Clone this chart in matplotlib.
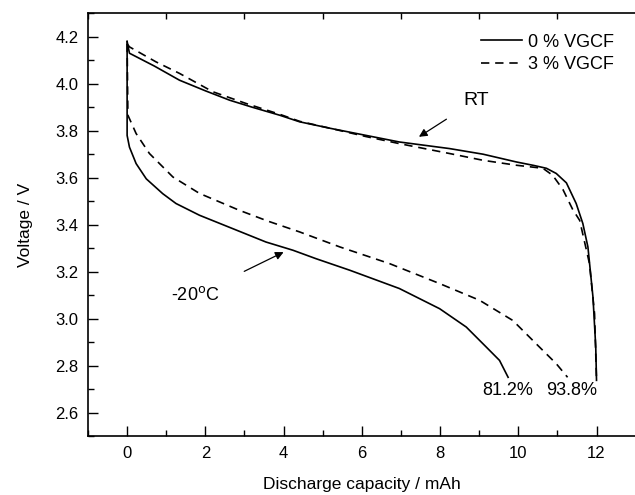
import numpy as np
import matplotlib
matplotlib.use('Agg')
import matplotlib.pyplot as plt
from matplotlib.ticker import MultipleLocator

# data (capacity in mAh, voltage in V)
rt0_x = [0.0, 0.06, 0.7, 1.34, 2.0, 2.62, 3.2, 3.9, 4.41, 5.2, 6.11, 6.96, 7.6, 8.24,
         9.1, 9.95, 10.4, 10.72, 10.97, 11.23, 11.48, 11.65, 11.78, 11.91, 11.98, 12.0]
rt0_y = [4.18, 4.13, 4.075, 4.015, 3.97, 3.93, 3.90, 3.866, 3.838, 3.81, 3.78, 3.752, 3.738, 3.724,
         3.70, 3.667, 3.652, 3.64, 3.618, 3.578, 3.49, 3.405, 3.305, 3.09, 2.88, 2.737]

rt3_x = [0.0, 0.06, 0.74, 1.34, 2.19, 3.04, 3.9, 4.41, 5.2, 6.11, 6.96, 7.6, 8.24, 9.1,
         9.95, 10.63, 10.88, 11.14, 11.39, 11.57, 11.82, 11.95, 12.0]
rt3_y = [4.17, 4.157, 4.093, 4.044, 3.966, 3.916, 3.87, 3.84, 3.81, 3.775, 3.745, 3.724, 3.703, 3.674,
         3.653, 3.64, 3.61, 3.55, 3.465, 3.418, 3.234, 3.02, 2.737]

low0_x = [0.0, 0.0, 0.06, 0.23, 0.49, 0.91, 1.25, 1.85, 2.7, 3.55, 4.24, 4.83, 5.69, 6.96,
          7.99, 8.67, 9.18, 9.52, 9.74]
low0_y = [4.18, 3.78, 3.73, 3.66, 3.595, 3.532, 3.49, 3.44, 3.383, 3.326, 3.291, 3.255, 3.206, 3.128,
          3.042, 2.964, 2.879, 2.822, 2.75]

low3_x = [0.0, 0.02, 0.23, 0.57, 1.17, 1.85, 2.87, 3.6, 4.41, 5.44, 6.71, 7.99, 9.01,
          9.86, 10.54, 10.97, 11.26]
low3_y = [4.17, 3.866, 3.788, 3.703, 3.603, 3.533, 3.461, 3.415, 3.369, 3.305, 3.234, 3.149, 3.078,
          2.992, 2.879, 2.808, 2.75]

plt.rcParams['font.family'] = ['Liberation Sans', 'DejaVu Sans']

fig = plt.figure(figsize=(6.35, 4.95), dpi=100)
ax = fig.add_axes([88/635, 59/495, 1 - 88/635 + 0.001, (436 - 13.3)/495])

lw = 1.2
dash = (5, 3.5)
ax.plot(rt0_x, rt0_y, color='black', lw=lw, label='0 % VGCF')
ax.plot(rt3_x, rt3_y, color='black', lw=lw, dashes=dash, label='3 % VGCF')
ax.plot(low0_x, low0_y, color='black', lw=lw)
ax.plot(low3_x, low3_y, color='black', lw=lw, dashes=dash)

ax.set_xlim(-1, 13)
ax.set_ylim(2.5, 4.3)
ax.xaxis.set_major_locator(MultipleLocator(2))
ax.xaxis.set_minor_locator(MultipleLocator(1))
ax.yaxis.set_major_locator(MultipleLocator(0.2))
ax.yaxis.set_minor_locator(MultipleLocator(0.1))
ax.tick_params(which='both', direction='in', top=True, right=False, labelsize=12, width=1)
ax.tick_params(which='major', length=7, pad=7)
ax.tick_params(which='minor', length=4)
ax.tick_params(axis='x', which='major', top=False)
ax.xaxis.set_major_formatter(matplotlib.ticker.FormatStrFormatter('%d'))
ax.yaxis.set_major_formatter(matplotlib.ticker.FormatStrFormatter('%.1f'))
ax.spines['right'].set_visible(False)
for s in ['left', 'bottom', 'top']:
    ax.spines[s].set_linewidth(1.2)

ax.set_xlabel('Discharge capacity / mAh', fontsize=12.5, labelpad=12)
ax.set_ylabel('Voltage / V', fontsize=12.5, labelpad=16)

ax.annotate('RT', xy=(7.46, 3.774), xytext=(8.92, 3.93), fontsize=14,
            ha='center', va='center',
            arrowprops=dict(arrowstyle='-|>', color='black', lw=0.9,
                            shrinkA=12, shrinkB=0, mutation_scale=12))
ax.annotate('-20$^{\\rm o}$C', xy=(4.0, 3.283), xytext=(1.74, 3.099), fontsize=13,
            ha='center', va='center',
            arrowprops=dict(arrowstyle='-|>', color='black', lw=0.9,
                            shrinkA=20, shrinkB=0, mutation_scale=12))
ax.text(9.73, 2.694, '81.2%', fontsize=13, ha='center', va='center')
ax.text(11.36, 2.694, '93.8%', fontsize=13, ha='center', va='center')

ax.legend(loc='upper right', bbox_to_anchor=(0.99, 0.99), frameon=False, fontsize=13,
          handlelength=2.3, handletextpad=0.3, labelspacing=0.3)

fig.savefig('out.png', dpi=100)
